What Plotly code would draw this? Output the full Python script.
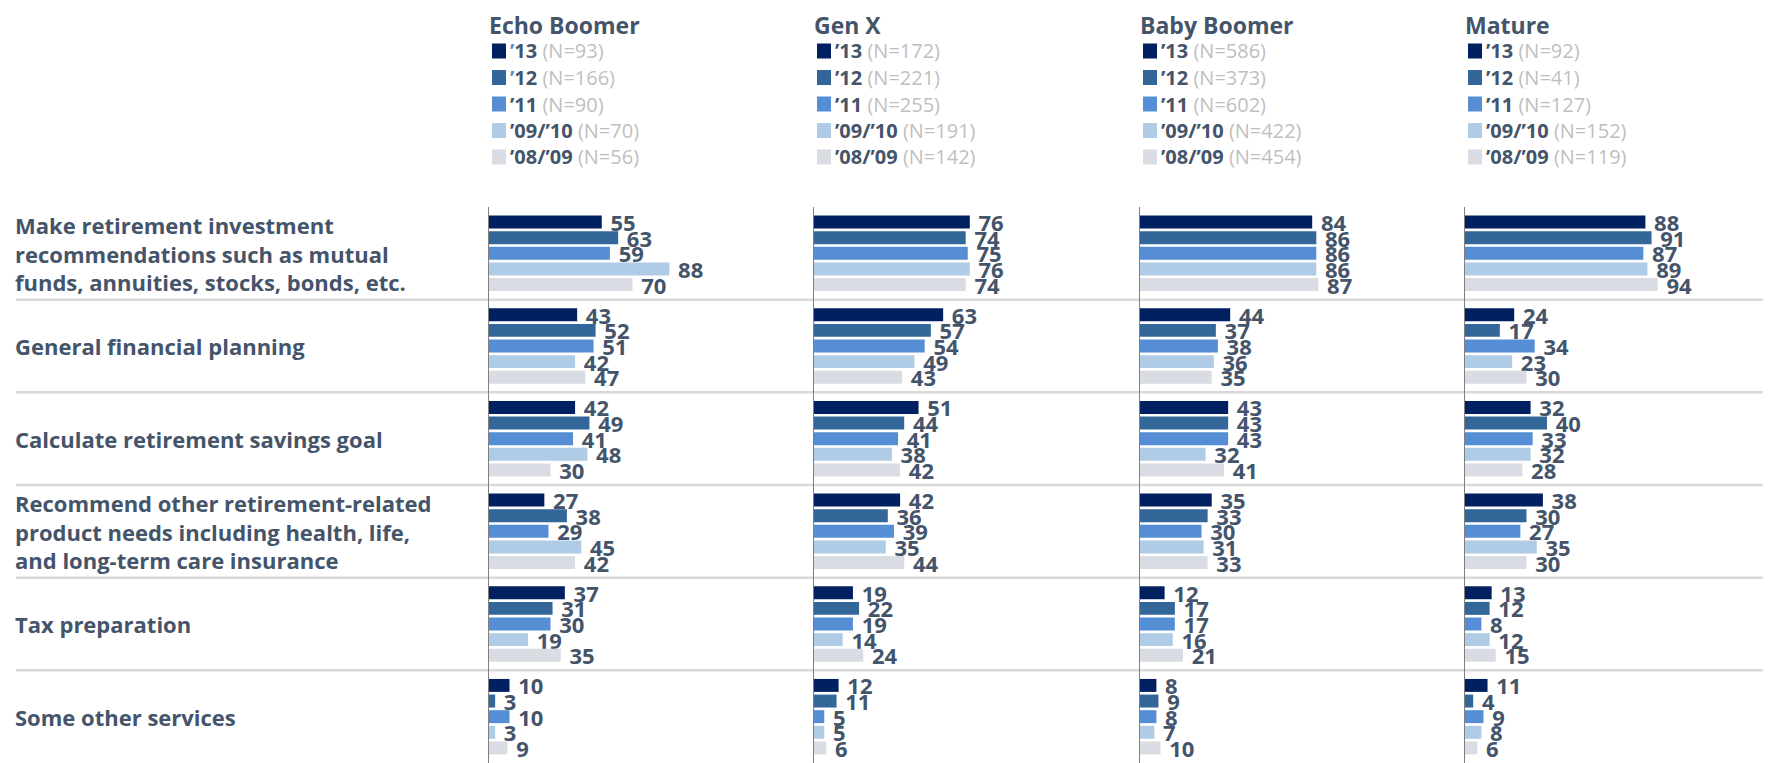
import plotly.graph_objects as go

# The page body has an 8px margin, so the figure is sized to fit the window
# and window-pixel positions are converted with OFF.
WIN_W, WIN_H = 1771, 763
OFF = 8
W, H = WIN_W - OFF, WIN_H - OFF

categories = [
    "Make retirement investment<br>recommendations such as mutual<br>funds, annuities, stocks, bonds, etc.",
    "General financial planning",
    "Calculate retirement savings goal",
    "Recommend other retirement-related<br>product needs including health, life,<br>and long-term care insurance",
    "Tax preparation",
    "Some other services",
]
generations = ["Echo Boomer", "Gen X", "Baby Boomer", "Mature"]
periods = ["’13", "’12", "’11", "’09/’10", "’08/’09"]

# values per generation: one list per period, across the categories
echo_boomer = [
    [55, 43, 42, 27, 37, 10],
    [63, 52, 49, 38, 31, 3],
    [59, 51, 41, 29, 30, 10],
    [88, 42, 48, 45, 19, 3],
    [70, 47, 30, 42, 35, 9],
]
gen_x = [
    [76, 63, 51, 42, 19, 12],
    [74, 57, 44, 36, 22, 11],
    [75, 54, 41, 39, 19, 5],
    [76, 49, 38, 35, 14, 5],
    [74, 43, 42, 44, 24, 6],
]
baby_boomer = [
    [84, 44, 43, 35, 12, 8],
    [86, 37, 43, 33, 17, 9],
    [86, 38, 43, 30, 17, 8],
    [86, 36, 32, 31, 16, 7],
    [87, 35, 41, 33, 21, 10],
]
mature = [
    [88, 24, 32, 38, 13, 11],
    [91, 17, 40, 30, 12, 4],
    [87, 34, 33, 27, 8, 9],
    [89, 23, 32, 35, 12, 8],
    [94, 30, 28, 30, 15, 6],
]
echo_boomer_n = [93, 166, 90, 70, 56]
gen_x_n = [172, 221, 255, 191, 142]
baby_boomer_n = [586, 373, 602, 422, 454]
mature_n = [92, 41, 127, 152, 119]

all_values = [echo_boomer, gen_x, baby_boomer, mature]
all_n = [echo_boomer_n, gen_x_n, baby_boomer_n, mature_n]

colors = ["#002060", "#336699", "#558ED5", "#B0CBE6", "#D9DDE3"]
TEXT = "#44546A"
FONT = "Open Sans"


def px(xw):
    return (xw - OFF) / W


def py(yw):
    return 1 - (yw - OFF) / H


axis_px = [489, 814, 1140, 1465]  # window px of each panel's zero line
panel_w = 295
px_per_unit = 2.05
plot_top = 207
plot_bottom = 763

fig = go.Figure()
for g, (vals, ax) in enumerate(zip(all_values, axis_px)):
    sfx = "" if g == 0 else str(g + 1)
    for k, period in enumerate(periods):
        fig.add_trace(go.Bar(
            y=categories, x=vals[k], orientation="h",
            marker=dict(color=colors[k], line=dict(width=0)),
            text=["<b> " + str(v) + "</b>" for v in vals[k]], textposition="outside",
            textfont=dict(family=FONT, size=22, color=TEXT),
            constraintext="none", cliponaxis=False,
            showlegend=False, hoverinfo="skip",
            xaxis="x" + sfx, yaxis="y" + sfx,
        ))
    fig.layout["xaxis" + sfx] = dict(
        domain=[px(ax), min(1, px(ax + panel_w))], range=[0, panel_w / px_per_unit],
        anchor="y" + sfx, showgrid=False, zeroline=False, showticklabels=False,
        showline=False, fixedrange=True,
    )
    ydict = dict(
        domain=[max(0, py(plot_bottom)), py(plot_top)], anchor="x" + sfx,
        autorange="reversed", showgrid=False, zeroline=False, showticklabels=False,
        showline=True, linecolor="#7F7F7F", linewidth=1, ticks="",
        type="category", categoryorder="array", categoryarray=categories,
    )
    if g > 0:
        ydict["matches"] = "y"
    fig.layout["yaxis" + sfx] = ydict

annotations = []
shapes = []

# category labels
for c in categories:
    annotations.append(dict(
        x=px(13), xref="paper", y=c, yref="y", xanchor="left", yanchor="middle",
        align="left", showarrow=False, text="<b>" + c + "</b>",
        font=dict(family=FONT, size=22, color=TEXT),
    ))

# separators
for i in range(len(categories) - 1):
    shapes.append(dict(
        type="line", xref="paper", yref="y", x0=px(16), x1=1, y0=i + 0.5, y1=i + 0.5,
        line=dict(color="#D9D9D9", width=2.5), layer="below",
    ))

# panel titles and custom legends
legend_y0 = 51
legend_step = 26.5
for g, (name, ax, ns) in enumerate(zip(generations, axis_px, all_n)):
    annotations.append(dict(
        x=px(ax - 2), xref="paper", y=py(25), yref="paper", xanchor="left", yanchor="middle",
        showarrow=False, text="<b>" + name + "</b>",
        font=dict(family=FONT, size=23, color=TEXT),
    ))
    for k, (period, n) in enumerate(zip(periods, ns)):
        yc = legend_y0 + legend_step * k
        shapes.append(dict(
            type="rect", xref="paper", yref="paper",
            x0=px(ax + 3), x1=px(ax + 17), y0=py(yc + 7.5), y1=py(yc - 7.5),
            fillcolor=colors[k], line=dict(width=0),
        ))
        label = period
        if g == 0 and k < 2:
            label = "<span style='color:#558ED5'>’</span>" + period[1:]
        annotations.append(dict(
            x=px(ax + 19), xref="paper", y=py(yc), yref="paper", xanchor="left",
            yanchor="middle", showarrow=False,
            text="<b>" + label + "</b> <span style='color:#BFBFBF'>(N=" + str(n) + ")</span>",
            font=dict(family=FONT, size=20, color=TEXT),
        ))

fig.update_layout(
    width=W, height=H, margin=dict(l=0, r=0, t=0, b=0),
    paper_bgcolor="white", plot_bgcolor="white",
    barmode="group", bargap=0.157, bargroupgap=0.17,
    annotations=annotations, shapes=shapes, showlegend=False,
    font=dict(family=FONT, color=TEXT),
)

fig.write_html("out.html")
